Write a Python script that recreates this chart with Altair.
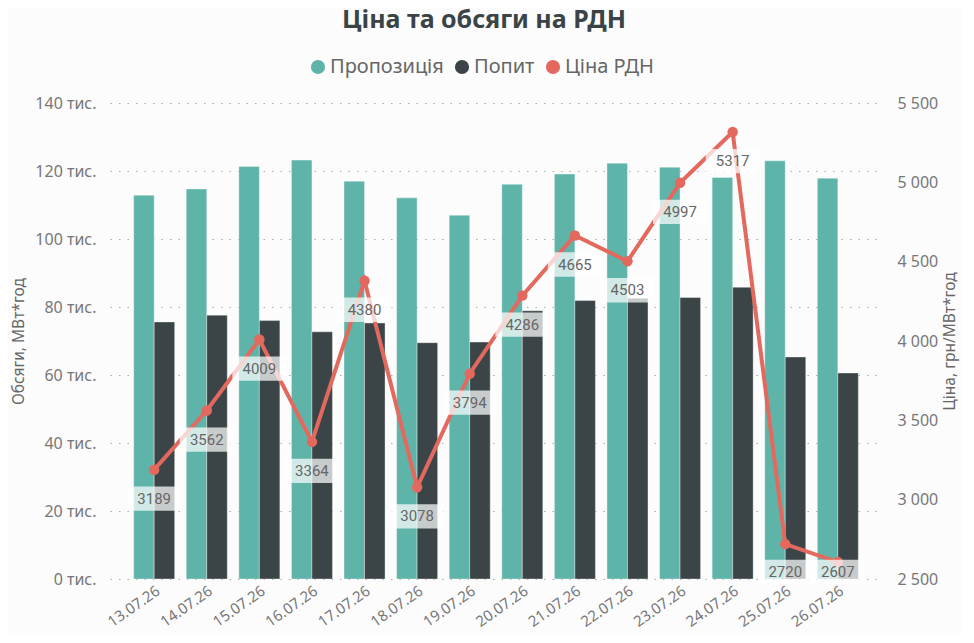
import altair as alt
import pandas as pd

dates = ["13.07.26", "14.07.26", "15.07.26", "16.07.26", "17.07.26", "18.07.26", "19.07.26",
         "20.07.26", "21.07.26", "22.07.26", "23.07.26", "24.07.26", "25.07.26", "26.07.26"]
supply = [112900, 114700, 121300, 123200, 117000, 112100, 107000,
          116100, 119100, 122300, 121100, 118100, 123000, 117900]
demand = [75600, 77600, 76000, 72700, 75300, 69500, 69700,
          78900, 81900, 82600, 82800, 85800, 65300, 60600]
price = [3189, 3562, 4009, 3364, 4380, 3078, 3794, 4286, 4665, 4503, 4997, 5317, 2720, 2607]

series_names = ["Пропозиція", "Попит", "Ціна РДН"]
colors = ["#5fb4aa", "#3b4547", "#e3695f"]

left_ticks = [0, 20000, 40000, 60000, 80000, 100000, 120000, 140000]
right_ticks = [2500, 3000, 3500, 4000, 4500, 5000, 5500]

FONT = "Noto Sans"
LABEL_FONT = "Roboto"

bars_df = pd.DataFrame({
    "date": dates * 2,
    "series": [series_names[0]] * len(dates) + [series_names[1]] * len(dates),
    "value": supply + demand,
})
price_df = pd.DataFrame({"date": dates, "price": price})

x_enc = alt.X(
    "date:N", sort=dates, title=None,
    scale=alt.Scale(paddingInner=0.22, paddingOuter=0.45),
    axis=alt.Axis(labelAngle=325, labelAlign="right", labelBaseline="top",
                  labelFontSize=15, labelColor="#777777", labelFont=FONT,
                  ticks=False, domain=False, labelPadding=4, grid=False),
)

bars = alt.Chart(bars_df).mark_bar(stroke="#ffffff", strokeWidth=0.6, strokeOpacity=0.6).encode(
    x=x_enc,
    xOffset=alt.XOffset("series:N", sort=series_names[:2], scale=alt.Scale(paddingInner=0.0)),
    y=alt.Y("value:Q", scale=alt.Scale(domain=[0, 140000]),
            axis=alt.Axis(title="Обсяги, МВт*год", values=left_ticks,
                          labelExpr="datum.value / 1000 + ' тис.'",
                          grid=True, gridDash=[1.5, 7], gridColor="#aaaaaa", gridWidth=1,
                          domain=False, ticks=False, tickSize=0, labelPadding=14,
                          labelFontSize=16, labelColor="#777777", labelFont=FONT,
                          titleFontSize=15.5, titleColor="#666666", titleFont=FONT,
                          titleFontWeight="normal", titlePadding=8)),
    color=alt.Color("series:N", scale=alt.Scale(domain=series_names, range=colors),
                    legend=alt.Legend(title=None, orient="none", direction="horizontal",
                                      legendX=198, legendY=-46, symbolType="circle",
                                      symbolSize=200, symbolStrokeWidth=0,
                                      labelFontSize=20, labelColor="#666666", labelFont=FONT,
                                      labelOffset=2, columnPadding=8)),
)

def price_axis():
    return alt.Axis(title="Ціна, грн/МВт*год", orient="right", values=right_ticks,
                    labelExpr="replace(format(datum.value, ','), ',', ' ')",
                    grid=False, domain=False, ticks=False, tickSize=0, labelPadding=15,
                    labelFontSize=16, labelColor="#777777", labelFont=FONT,
                    labelAlign="left",
                    titleFontSize=15.5, titleColor="#666666", titleFont=FONT,
                    titleFontWeight="normal", titlePadding=20, titleAngle=270)

price_scale = alt.Scale(domain=[2500, 5500])

line = alt.Chart(price_df).mark_line(color=colors[2], strokeWidth=4).encode(
    x=alt.X("date:N", sort=dates),
    y=alt.Y("price:Q", scale=price_scale, axis=price_axis()),
)
points = alt.Chart(price_df).mark_point(filled=True, color=colors[2], size=110, opacity=1).encode(
    x=alt.X("date:N", sort=dates),
    y=alt.Y("price:Q", scale=price_scale, axis=price_axis()),
)

base_lab = alt.Chart(price_df).transform_calculate(
    lab_y="max(datum.price - 183, 2545)"
)
boxes = base_lab.mark_point(
    shape="M-1,-0.45L1,-0.45L1,0.45L-1,0.45Z", filled=True, fill="#ffffff",
    fillOpacity=0.72, strokeWidth=0, size=2916,
).encode(
    x=alt.X("date:N", sort=dates),
    y=alt.Y("lab_y:Q", scale=price_scale, axis=price_axis()),
)
texts = base_lab.mark_text(font=LABEL_FONT, fontSize=15, color="#666666", baseline="middle").encode(
    x=alt.X("date:N", sort=dates),
    y=alt.Y("lab_y:Q", scale=price_scale, axis=price_axis()),
    text=alt.Text("price:Q", format="d"),
)

price_layer = alt.layer(line, points, boxes, texts)

chart = alt.layer(bars, price_layer).resolve_scale(y="independent").properties(
    width=772, height=476,
    padding={"left": 3, "top": 0, "right": 2, "bottom": 5},
    background="#fcfcfc",
    title=alt.TitleParams("Ціна та обсяги на РДН", fontSize=25, font=FONT, fontWeight="bold",
                          color="#3a4446", anchor="middle", offset=24, dx=-12),
).configure_view(stroke=None)

chart.save("out.html", embed_options={"renderer": "svg", "actions": False})
